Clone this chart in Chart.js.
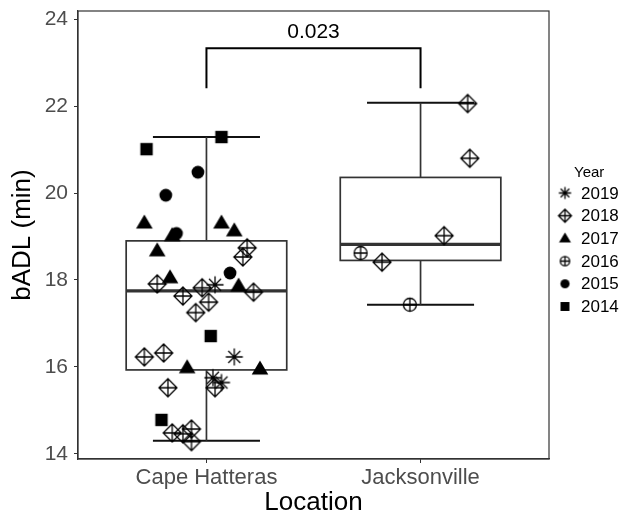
<!DOCTYPE html>
<html lang="en">
  <head>
    <meta charset="UTF-8" />
    <title>bADL by Location</title>
    <script src="https://cdn.jsdelivr.net/npm/chart.js"></script>
    <style>
      body {
        margin: 0;
        background: #fff;
      }
    </style>
  </head>
  <body>
    <canvas id="myChart" width="624" height="516"></canvas>

    <script>
      // categories and axis ticks
      const locations = ['Cape Hatteras', 'Jacksonville'];
      const yTicks = [14, 16, 18, 20, 22, 24];
      const years = ['2019', '2018', '2017', '2016', '2015', '2014'];

      // box stats per location
      const boxLow = [14.30, 17.43];
      const boxQ1 = [15.93, 18.45];
      const boxMedian = [17.75, 18.82];
      const boxQ3 = [18.90, 20.36];
      const boxHigh = [21.29, 22.08];

      // jittered points, [position, bADL] ; 1 = Cape Hatteras, 2 = Jacksonville
      const pts2019 = [[1.04, 17.89], [1.13, 16.23], [1.03, 15.75], [1.07, 15.64]];
      const pts2018 = [
        [1.19, 18.74], [1.17, 18.53], [0.77, 17.91], [0.98, 17.82], [1.22, 17.72],
        [0.89, 17.63], [1.01, 17.49], [0.95, 17.25], [0.71, 16.23], [0.80, 16.32],
        [0.82, 15.52], [1.04, 15.52], [0.84, 14.48], [0.89, 14.46], [0.93, 14.57],
        [0.93, 14.28],
        [2.22, 22.06], [2.23, 20.80], [2.11, 19.02], [1.82, 18.41]
      ];
      const pts2017 = [
        [0.71, 19.31], [1.07, 19.31], [1.13, 19.13], [0.84, 19.02], [0.77, 18.67],
        [0.83, 18.05], [1.15, 17.86], [0.91, 15.98], [1.25, 15.95]
      ];
      const pts2016 = [[1.72, 18.62], [1.95, 17.43]];
      const pts2015 = [[0.96, 20.48], [0.81, 19.95], [0.86, 19.07], [1.11, 18.16]];
      const pts2014 = [[1.07, 21.29], [0.72, 21.01], [1.02, 16.71], [0.79, 14.78]];

      // significance bracket
      const pValue = '0.023';
      const bracketTop = 23.33;
      const bracketFoot = 22.41;

      const FONT = "'Liberation Sans', Arial, Helvetica, sans-serif";
      const INK = '#333333';

      // point symbols drawn on little canvases (ggplot shapes 8, 9, 17, 10, 16, 15)
      function makeShape(kind, k) {
        const r = 10 * k;
        const size = Math.ceil(2 * r + 4);
        const c = document.createElement('canvas');
        c.width = size;
        c.height = size;
        const g = c.getContext('2d');
        const m = size / 2;
        g.strokeStyle = '#000';
        g.fillStyle = '#000';
        g.lineWidth = 1.3;
        if (kind === 'star') {
          const a = 8.5 * k, d = a * 0.707;
          g.beginPath();
          g.moveTo(m - a, m); g.lineTo(m + a, m);
          g.moveTo(m, m - a); g.lineTo(m, m + a);
          g.moveTo(m - d, m - d); g.lineTo(m + d, m + d);
          g.moveTo(m - d, m + d); g.lineTo(m + d, m - d);
          g.stroke();
        } else if (kind === 'diamondPlus') {
          const a = 9 * k;
          g.beginPath();
          g.moveTo(m, m - a); g.lineTo(m + a, m); g.lineTo(m, m + a); g.lineTo(m - a, m); g.closePath();
          g.moveTo(m - a, m); g.lineTo(m + a, m);
          g.moveTo(m, m - a); g.lineTo(m, m + a);
          g.stroke();
        } else if (kind === 'triangle') {
          const w = 8.3 * k, h = 14 * k;
          g.beginPath();
          g.moveTo(m, m - h * 0.6); g.lineTo(m + w, m + h * 0.4); g.lineTo(m - w, m + h * 0.4); g.closePath();
          g.fill();
        } else if (kind === 'circlePlus') {
          const a = 6.5 * k;
          g.beginPath();
          g.arc(m, m, a, 0, Math.PI * 2);
          g.moveTo(m - a, m); g.lineTo(m + a, m);
          g.moveTo(m, m - a); g.lineTo(m, m + a);
          g.stroke();
        } else if (kind === 'circle') {
          g.beginPath();
          g.arc(m, m, 6.4 * k, 0, Math.PI * 2);
          g.fill();
        } else if (kind === 'square') {
          const a = 6.2 * k;
          g.fillRect(m - a, m - a, 2 * a, 2 * a);
        }
        return c;
      }

      const shapeKinds = ['star', 'diamondPlus', 'triangle', 'circlePlus', 'circle', 'square'];
      const yearPoints = [pts2019, pts2018, pts2017, pts2016, pts2015, pts2014];

      const datasets = years.map((yr, i) => ({
        label: yr,
        data: yearPoints[i].map(p => ({ x: p[0], y: p[1] })),
        pointStyle: makeShape(shapeKinds[i], 1),
        pointRadius: 8,
        showLine: false
      }));

      // boxplots behind the points
      const boxPlugin = {
        id: 'boxes',
        beforeDatasetsDraw(chart) {
          const { ctx, scales: { x, y } } = chart;
          ctx.save();
          locations.forEach((loc, i) => {
            const pos = i + 1;
            const l = x.getPixelForValue(pos - 0.375);
            const r = x.getPixelForValue(pos + 0.375);
            const cx = x.getPixelForValue(pos);
            const cl = x.getPixelForValue(pos - 0.25);
            const cr = x.getPixelForValue(pos + 0.25);
            const yl = y.getPixelForValue(boxLow[i]);
            const y1 = y.getPixelForValue(boxQ1[i]);
            const ym = y.getPixelForValue(boxMedian[i]);
            const y3 = y.getPixelForValue(boxQ3[i]);
            const yh = y.getPixelForValue(boxHigh[i]);

            ctx.strokeStyle = '#111';
            ctx.lineWidth = 2;
            ctx.beginPath();
            ctx.moveTo(cl, yh); ctx.lineTo(cr, yh);
            ctx.moveTo(cl, yl); ctx.lineTo(cr, yl);
            ctx.stroke();

            ctx.strokeStyle = INK;
            ctx.lineWidth = 1.7;
            ctx.beginPath();
            ctx.moveTo(cx, yh); ctx.lineTo(cx, y3);
            ctx.moveTo(cx, y1); ctx.lineTo(cx, yl);
            ctx.stroke();

            ctx.fillStyle = '#fff';
            ctx.fillRect(l, y3, r - l, y1 - y3);
            ctx.strokeRect(l, y3, r - l, y1 - y3);

            ctx.lineWidth = 3.4;
            ctx.beginPath();
            ctx.moveTo(l, ym); ctx.lineTo(r, ym);
            ctx.stroke();
          });
          ctx.restore();
        },
        afterDatasetsDraw(chart) {
          const { ctx, scales: { x, y }, chartArea } = chart;
          ctx.save();
          // p-value bracket
          const x1 = x.getPixelForValue(1);
          const x2 = x.getPixelForValue(2);
          const yt = y.getPixelForValue(bracketTop);
          const yf = y.getPixelForValue(bracketFoot);
          ctx.strokeStyle = '#000';
          ctx.lineWidth = 2;
          ctx.beginPath();
          ctx.moveTo(x1, yf); ctx.lineTo(x1, yt); ctx.lineTo(x2, yt); ctx.lineTo(x2, yf);
          ctx.stroke();
          ctx.fillStyle = '#000';
          ctx.font = '21px ' + FONT;
          ctx.textAlign = 'center';
          ctx.textBaseline = 'middle';
          ctx.fillText(pValue, (x1 + x2) / 2, yt - 16);

          // panel border (top + right; left/bottom come from the axes)
          ctx.strokeStyle = INK;
          ctx.lineWidth = 1.2;
          ctx.strokeRect(chartArea.left, chartArea.top, chartArea.right - chartArea.left, chartArea.bottom - chartArea.top);
          ctx.restore();
        },
        afterDraw(chart) {
          const { ctx } = chart;
          ctx.save();
          ctx.fillStyle = '#000';
          ctx.textBaseline = 'middle';
          ctx.textAlign = 'left';
          ctx.font = '15px ' + FONT;
          ctx.fillText('Year', 574, 173);
          ctx.font = '17px ' + FONT;
          years.forEach((yr, i) => {
            const yy = 193 + i * 22.7;
            const img = makeShape(shapeKinds[i], 0.72);
            ctx.drawImage(img, 565 - img.width / 2, yy - img.height / 2);
            ctx.fillText(yr, 581, yy + 1);
          });
          ctx.restore();
        }
      };

      const ctx = document.getElementById('myChart').getContext('2d');
      const myChart = new Chart(ctx, {
        type: 'scatter',
        data: { datasets: datasets },
        options: {
          responsive: false,
          animation: false,
          layout: { padding: { top: 11, right: 75, left: 0, bottom: 0 } },
          plugins: {
            legend: { display: false },
            tooltip: { enabled: false }
          },
          scales: {
            x: {
              type: 'linear',
              min: 0.4,
              max: 2.6,
              afterFit: (scale) => {
                scale.height = 57;
                scale.paddingLeft = 0;
                scale.paddingRight = 0;
              },
              afterBuildTicks: (scale) => {
                scale.ticks = locations.map((l, i) => ({ value: i + 1 }));
              },
              ticks: {
                color: '#4d4d4d',
                font: { family: FONT, size: 22 },
                padding: 2,
                callback: (v) => locations[Math.round(v) - 1]
              },
              grid: { drawOnChartArea: false, tickLength: 4, color: INK },
              border: { display: true, color: INK, width: 1.2 },
              title: {
                display: true,
                text: 'Location',
                color: '#000',
                font: { family: FONT, size: 26, lineHeight: 1 },
                padding: { top: 0, bottom: 0 }
              }
            },
            y: {
              min: 13.88,
              max: 24.19,
              afterFit: (scale) => {
                scale.width = 78;
                scale.paddingTop = 0;
                scale.paddingBottom = 0;
              },
              afterBuildTicks: (scale) => {
                scale.ticks = yTicks.map(v => ({ value: v }));
              },
              ticks: {
                color: '#4d4d4d',
                font: { family: FONT, size: 21 },
                padding: 6
              },
              grid: { drawOnChartArea: false, tickLength: 4, color: INK },
              border: { display: true, color: INK, width: 1.2 },
              title: {
                display: true,
                text: 'bADL (min)',
                color: '#000',
                font: { family: FONT, size: 26, lineHeight: 1 },
                padding: { top: 10, bottom: 0 }
              }
            }
          }
        },
        plugins: [boxPlugin]
      });
    </script>
  </body>
</html>
